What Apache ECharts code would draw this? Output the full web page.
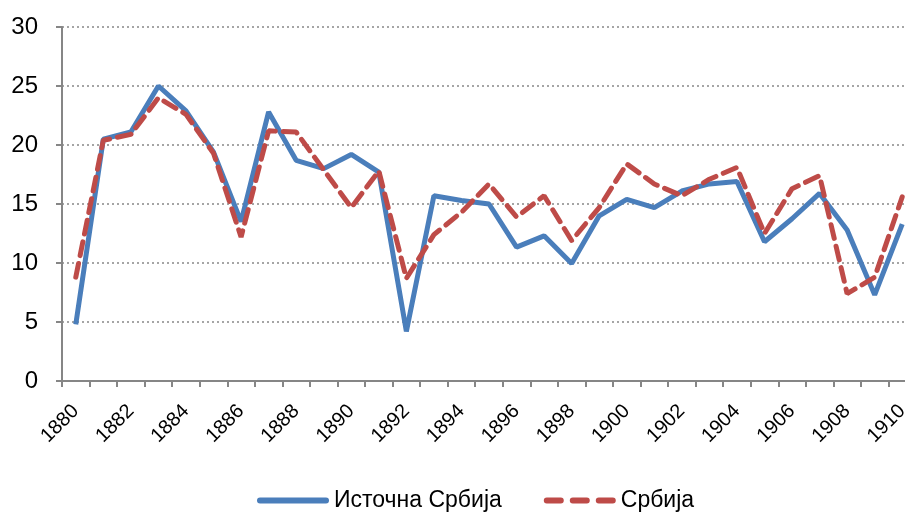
<!DOCTYPE html>
<html><head><meta charset="utf-8">
<script src="https://cdn.jsdelivr.net/npm/echarts@6/dist/echarts.min.js"></script>
<style>html,body{margin:0;padding:0;background:#fff;overflow:hidden}#c{width:916px;height:513px}</style>
</head><body><div id="c"></div>
<script>
var years = [];
for (var y = 1880; y <= 1910; y++) years.push(String(y));
var istocnaSrbija = [4.8,20.5,21.1,25.0,22.9,19.4,13.5,22.8,18.7,18.0,19.2,17.7,4.2,15.7,15.3,15.0,11.35,12.3,9.95,14.0,15.4,14.7,16.1,16.7,16.9,11.8,13.75,15.9,12.8,7.3,13.3];
var srbija = [8.8,20.4,20.9,24.0,22.6,19.3,12.2,21.2,21.1,17.9,14.7,17.8,8.7,12.4,14.3,16.7,13.9,15.7,11.9,14.7,18.4,16.7,15.7,17.1,18.1,12.5,16.3,17.4,7.4,8.8,15.6];
var yTicks = [0,5,10,15,20,25,30];

var chart = echarts.init(document.getElementById('c'));
var font = '"Liberation Sans", Arial, sans-serif';
chart.setOption({
  animation: false,
  grid: {left: 62, top: 27, height: 354, right: 0, containLabel: false},
  legend: {
    top: 484, left: 252, itemWidth: 72, itemHeight: 7, itemGap: 42,
    textStyle: {fontFamily: font, fontSize: 23, color: '#000'},
    data: [
      {name: 'Источна Србија', icon: 'path://M3,0h66a3,3 0 0 1 0,6h-66a3,3 0 0 1 0,-6z'},
      {name: 'Србија', icon: 'path://M3,0h14a3,3 0 0 1 0,6h-14a3,3 0 0 1 0,-6z M29,0h14a3,3 0 0 1 0,6h-14a3,3 0 0 1 0,-6z M55,0h14a3,3 0 0 1 0,6h-14a3,3 0 0 1 0,-6z'}
    ]
  },
  xAxis: {
    type: 'category', data: years, boundaryGap: true,
    axisLine: {lineStyle: {color: '#868686', width: 2}},
    axisTick: {show: true, interval: 0, length: 6, lineStyle: {color: '#868686', width: 2}},
    axisLabel: {interval: 1, rotate: 45, fontFamily: font, fontSize: 20, color: '#000', margin: 27}
  },
  yAxis: {
    type: 'value', min: yTicks[0], max: yTicks[yTicks.length-1], interval: 5,
    axisLine: {show: true, lineStyle: {color: '#868686', width: 2}},
    axisTick: {show: true, length: 6, lineStyle: {color: '#868686', width: 2}},
    axisLabel: {fontFamily: font, fontSize: 24, color: '#000', margin: 24},
    splitLine: {lineStyle: {color: '#888', type: [2, 3], width: 1.5}}
  },
  series: [
    {name: 'Источна Србија', type: 'line', data: istocnaSrbija, symbol: 'none',
     lineStyle: {color: '#4A7EBB', width: 5}, itemStyle: {color: '#4A7EBB'}},
    {name: 'Србија', type: 'line', data: srbija, symbol: 'none',
     lineStyle: {color: '#BE4B48', width: 5, type: [14, 8], cap: 'round'}, itemStyle: {color: '#BE4B48'}}
  ]
});
</script></body></html>
